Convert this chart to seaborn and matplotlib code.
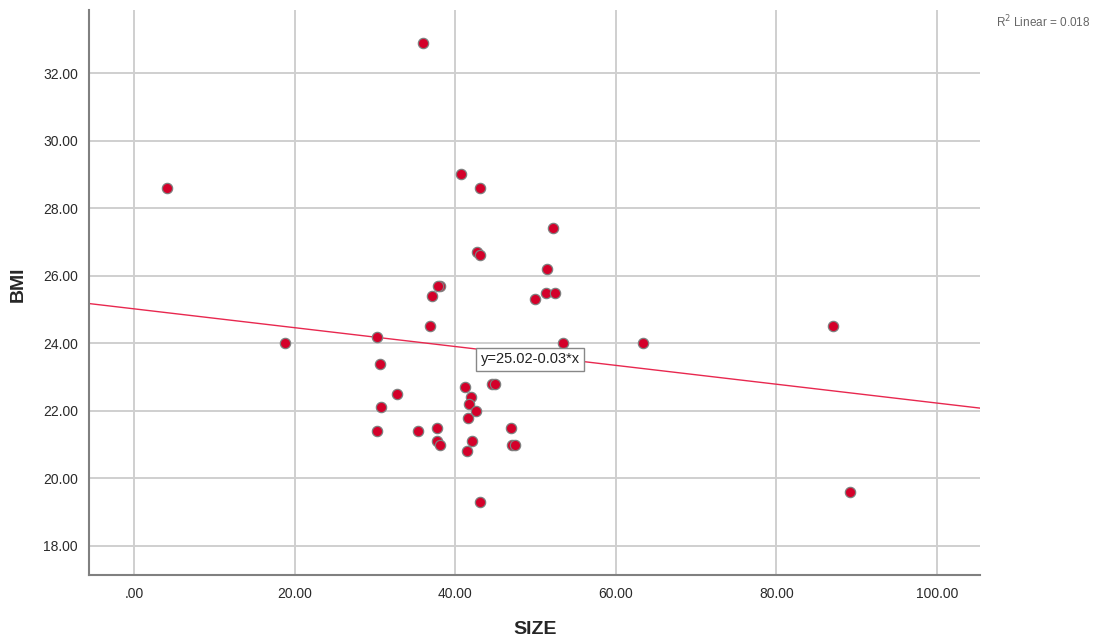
import numpy as np
import pandas as pd
import matplotlib
matplotlib.use("Agg")
import matplotlib.pyplot as plt
import seaborn as sns
from matplotlib.ticker import FuncFormatter

# Data
size = [40.7, 43.1, 52.2, 42.7, 43.1, 51.4, 38.1, 37.8, 37.1, 51.3, 52.4, 50.0,
        36.9, 30.25, 53.4,
        30.7, 41.2, 44.6, 44.9, 32.7, 42.0, 41.7, 30.75, 42.6, 41.6, 30.25, 35.4,
        37.7, 47.0, 37.7, 38.1, 42.1, 47.1, 47.4, 41.5, 43.1,
        4.1, 18.8, 87.1, 89.2, 36.0, 63.4]
bmi = [29.0, 28.6, 27.4, 26.7, 26.6, 26.2, 25.7, 25.7, 25.4, 25.5, 25.5, 25.3,
       24.5, 24.2, 24.0,
       23.4, 22.7, 22.8, 22.8, 22.5, 22.4, 22.2, 22.1, 22.0, 21.8, 21.4, 21.4,
       21.5, 21.5, 21.1, 21.0, 21.1, 21.0, 21.0, 20.8, 19.3,
       28.6, 24.0, 24.5, 19.6, 32.9, 24.0]
fit_intercept = 25.02
fit_slope = -0.0279
x_ticks = [0, 20, 40, 60, 80, 100]
y_ticks = [18, 20, 22, 24, 26, 28, 30, 32]
eq_label = "y=25.02-0.03*x"
r2_label = "R$^2$ Linear = 0.018"

df = pd.DataFrame({"SIZE": size, "BMI": bmi})

sns.set_style("white")
plt.rcParams['font.family'] = ['Liberation Sans', 'DejaVu Sans']

fig = plt.figure(figsize=(10.99, 6.41), dpi=100)
ax = fig.add_axes([0.081, 0.103, 0.811, 0.881])
ax.set_xlim(-5.6, 105.4)
ax.set_ylim(17.14, 33.86)

ax.set_xticks(x_ticks)
ax.set_yticks(y_ticks)
ax.grid(True, color="#cfcfcf", linewidth=1.4)
ax.set_axisbelow(True)

ax.axline((0, fit_intercept), slope=fit_slope, color="#e8284f", linewidth=1.0, zorder=2)
sns.scatterplot(data=df, x="SIZE", y="BMI", ax=ax, s=55, color="#d4002a",
                edgecolor="#7f7f7f", linewidth=0.9, zorder=3)
ax.set_xlim(-5.6, 105.4)
ax.set_ylim(17.14, 33.86)

fmt = FuncFormatter(lambda v, p: ".00" if abs(v) < 1e-9 else f"{v:.2f}")
ax.xaxis.set_major_formatter(fmt)
ax.yaxis.set_major_formatter(fmt)
ax.tick_params(axis="both", labelsize=10, colors="#2a2a2a")
ax.tick_params(axis="y", length=4, width=1, color="#808080", pad=4)
ax.tick_params(axis="x", length=0, pad=9)

for s in ["top", "right"]:
    ax.spines[s].set_visible(False)
for s in ["left", "bottom"]:
    ax.spines[s].set_color("#808080")
    ax.spines[s].set_linewidth(1.5)

ax.set_xlabel("SIZE", fontsize=14, fontweight="bold", va="center")
ax.set_ylabel("BMI", fontsize=14, fontweight="bold", va="center")
ax.xaxis.set_label_coords(0.5, -0.0974)
ax.yaxis.set_label_coords(-0.0797, 0.5155)

ax.text(43.2, 23.52, eq_label, fontsize=10.5, ha="left", va="center", color="#222222",
        bbox=dict(boxstyle="square,pad=0.3", facecolor="white", edgecolor="#888888",
                  linewidth=1), zorder=4)

fig.text(0.992, 0.965, r2_label, fontsize=8.5, color="#666666", ha="right", va="center")

fig.savefig("out.png", dpi=100)
